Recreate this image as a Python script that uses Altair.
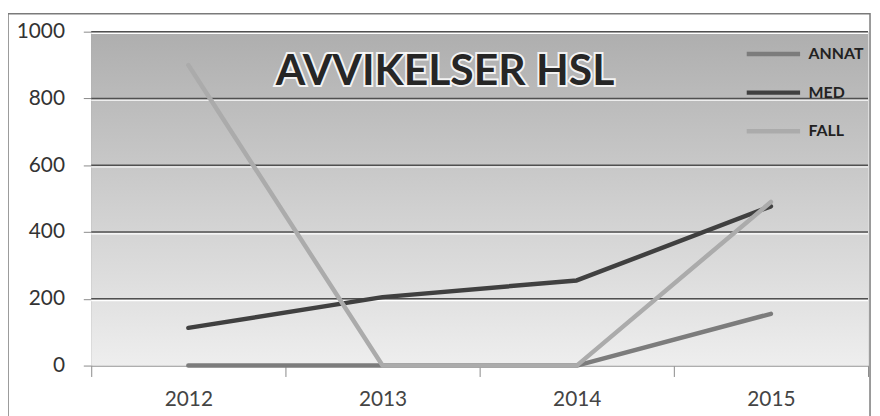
import altair as alt
import pandas as pd

title_text = "AVVIKELSER HSL"
years = ["2012", "2013", "2014", "2015"]
series = ["ANNAT", "MED", "FALL"]
annat = [0, 0, 0, 155]
med = [113, 205, 255, 477]
fall = [900, 0, 0, 490]
y_ticks = [0, 200, 400, 600, 800, 1000]
colors = ["#7c7c7c", "#404040", "#ababab"]

rows = []
for name, vals in zip(series, [annat, med, fall]):
    for yr, v in zip(years, vals):
        rows.append({"year": yr, "series": name, "value": v, "k": series.index(name)})
df = pd.DataFrame(rows)
grid_df = pd.DataFrame({"v": y_ticks[1:]})
title_df = pd.DataFrame({"t": [title_text]})

W, H = 784, 337
yscale = alt.Scale(domain=[0, 1000], nice=False)
FONT = "Lato"

y_axis = alt.Axis(
    title=None, values=y_ticks, grid=False, format="d", labelFont=FONT, labelFontSize=21,
    labelColor="#333333", tickSize=8, tickColor="#8a8a8a", domainColor="#a0a0a0",
    labelPadding=19, domainWidth=1.2,
)

bg = alt.Chart(pd.DataFrame({"a": [0]})).mark_rect(
    fill=alt.Gradient(
        gradient="linear",
        stops=[alt.GradientStop(color="#aeaeae", offset=0),
               alt.GradientStop(color="#eeeeee", offset=1)],
        x1=0, x2=0, y1=0, y2=1,
    )
).encode(x=alt.value(0), x2=alt.value(W), y=alt.value(0), y2=alt.value(H))

grid_dark = alt.Chart(grid_df).mark_rule(color="#505050", strokeWidth=1.5).encode(
    y=alt.Y("v:Q", scale=yscale, axis=y_axis), x=alt.value(0), x2=alt.value(W)
)
grid_light = alt.Chart(grid_df).mark_rule(color="#ffffff", strokeWidth=1.2, yOffset=1.8).encode(
    y=alt.Y("v:Q", scale=yscale, axis=y_axis), x=alt.value(0), x2=alt.value(W)
)

title_glow = alt.Chart(title_df).mark_text(
    font=FONT, fontSize=43, fontWeight="bold", color="#ffffff", stroke="#ffffff",
    strokeWidth=4, strokeOpacity=0.85, align="center", baseline="alphabetic",
).encode(text="t:N", x=alt.value(357), y=alt.value(54))
title_main = alt.Chart(title_df).mark_text(
    font=FONT, fontSize=43, fontWeight="bold", color="#262626",
    align="center", baseline="alphabetic",
).encode(text="t:N", x=alt.value(357), y=alt.value(54))

lines = alt.Chart(df).mark_line(strokeWidth=4.5, strokeCap="round", strokeJoin="round").encode(
    x=alt.X(
        "year:N",
        bandPosition=0.5,
        scale=alt.Scale(type="band", domain=years, paddingInner=0, paddingOuter=0),
        axis=alt.Axis(
            title=None, tickBand="extent", labelAngle=0, labelFont=FONT, labelFontSize=21,
            labelColor="#444444", tickSize=11, tickColor="#8a8a8a", domainColor="#9a9a9a",
            labelPadding=12, domainWidth=1.2,
        ),
    ),
    y=alt.Y("value:Q", scale=yscale, axis=y_axis),
    color=alt.Color(
        "series:N",
        scale=alt.Scale(domain=series, range=colors),
        sort=series,
        legend=alt.Legend(
            title=None, orient="none", legendX=659, legendY=-7, symbolType="stroke",
            symbolSize=2900, symbolStrokeWidth=4.5, labelFont=FONT, labelFontSize=16,
            labelFontWeight="bold", labelColor="#222222", labelOffset=6, rowPadding=0,
        ),
    ),
    order=alt.Order("k:Q"),
)

border = alt.Chart(pd.DataFrame({"a": [0]})).mark_rect(
    fillOpacity=0, stroke="#7a7a7a", strokeWidth=1.5
).encode(x=alt.value(-84), x2=alt.value(786), y=alt.value(-18), y2=alt.value(420))

chart = alt.layer(bg, grid_dark, grid_light, title_glow, title_main, lines, border).properties(
    width=W, height=H,
    autosize="none",
    padding={"left": 84, "top": 22, "right": 4, "bottom": 50},
).configure_view(stroke=None).configure(background="white")

chart.save("out.html", embed_options={"renderer": "svg", "actions": False})
